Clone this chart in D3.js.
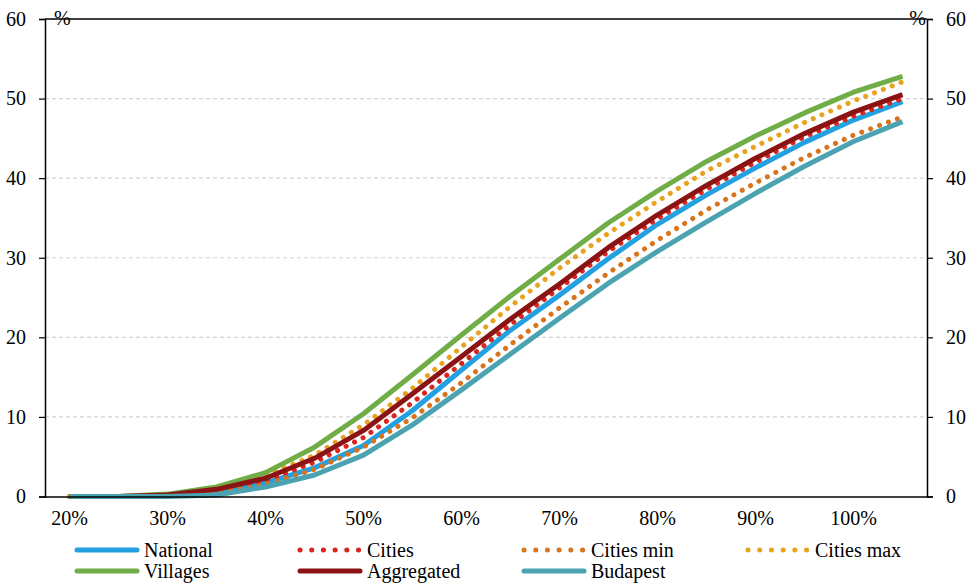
<!DOCTYPE html>
<html>
<head>
<meta charset="utf-8">
<script src="https://cdn.jsdelivr.net/npm/d3@7"></script>
<style>
  body { margin: 0; background: #fff; }
  svg text { font-family: "Times New Roman", "Liberation Serif", "DejaVu Serif", serif !important; fill: #000; }
</style>
</head>
<body>
<div id="chart"></div>
<script>
//////////////////////////////  data  /////////////////////////////////
var categories = ["20%","25%","30%","35%","40%","45%","50%","55%","60%","65%",
                  "70%","75%","80%","85%","90%","95%","100%","105%"];
var tickLabels = ["20%","30%","40%","50%","60%","70%","80%","90%","100%"];
var yTicks = [0,10,20,30,40,50,60];

var national  = [0,0,0.1,0.6,1.7,3.6,6.4,10.8,15.9,20.9,25.3,29.9,34.2,37.9,41.3,44.5,47.3,49.6];
var cities    = [0,0,0.1,0.7,2.0,4.3,7.4,11.8,16.7,21.6,26.2,30.8,34.9,38.6,42.0,45.2,47.8,50.0];
var citiesMin = [0,0,0.1,0.5,1.5,3.4,6.2,9.9,14.3,19.1,23.7,28.1,32.2,36.0,39.4,42.6,45.4,47.7];
var citiesMax = [0,0,0.2,1.0,2.6,5.2,9.0,13.6,18.8,23.9,28.7,33.1,37.1,40.9,44.0,47.0,49.7,52.1];
var villages  = [0,0,0.3,1.2,3.0,6.2,10.4,15.3,20.3,25.2,29.8,34.4,38.4,42.1,45.3,48.2,50.8,52.8];
var aggregated= [0,0,0.2,0.9,2.3,4.8,8.3,12.9,17.6,22.3,26.7,31.3,35.4,39.1,42.5,45.6,48.3,50.5];
var budapest  = [0,0,0,0.2,1.2,2.7,5.2,9.0,13.4,17.9,22.4,26.8,30.8,34.5,38.1,41.5,44.6,47.1];

var series = [
  {name: "National",   values: national,   color: "#22a0e0", dotted: false},
  {name: "Cities",     values: cities,     color: "#d8261e", dotted: true},
  {name: "Cities min", values: citiesMin,  color: "#d8731e", dotted: true},
  {name: "Cities max", values: citiesMax,  color: "#e8a31e", dotted: true},
  {name: "Villages",   values: villages,   color: "#70ad47", dotted: false},
  {name: "Aggregated", values: aggregated, color: "#8b1313", dotted: false},
  {name: "Budapest",   values: budapest,   color: "#4ba3b1", dotted: false}
];

//////////////////////////////  layout  /////////////////////////////////
var width = 972, height = 583;
var plot = {left: 45, right: 927, top: 19, bottom: 496.5};
var FONT = "'Times New Roman', 'Liberation Serif', 'DejaVu Serif', serif";

var svg = d3.select("#chart").append("svg")
  .attr("width", width)
  .attr("height", height)
  .style("font-family", FONT);

var x = d3.scaleBand()
  .domain(categories)
  .range([plot.left, plot.right]);

var y = d3.scaleLinear()
  .domain([0, 60])
  .range([plot.bottom, plot.top]);

function cx(d, i) { return x(categories[i]) + x.bandwidth() / 2; }

// gridlines
svg.append("g").selectAll("line")
  .data(yTicks.filter(function(d){ return d > 0 && d < 60; }))
  .enter().append("line")
  .attr("x1", plot.left).attr("x2", plot.right)
  .attr("y1", function(d){ return y(d); })
  .attr("y2", function(d){ return y(d); })
  .attr("stroke", "#d4d4d4")
  .attr("stroke-width", 1.2)
  .attr("stroke-dasharray", "4 3");

// series lines
var line = d3.line()
  .x(cx)
  .y(function(d){ return y(d); });

svg.append("g").selectAll("path")
  .data(series)
  .enter().append("path")
  .attr("d", function(d){ return line(d.values); })
  .attr("fill", "none")
  .attr("stroke", function(d){ return d.color; })
  .attr("stroke-width", 5)
  .attr("stroke-linecap", function(d){ return d.dotted ? "round" : "butt"; })
  .attr("stroke-linejoin", "round")
  .attr("stroke-dasharray", function(d){ return d.dotted ? "0.1 9.4" : null; });

// frame: top border + axes
svg.append("line")
  .attr("x1", plot.left).attr("x2", plot.right)
  .attr("y1", plot.top).attr("y2", plot.top)
  .attr("stroke", "#000").attr("stroke-width", 1.5);

var yLeft = svg.append("g")
  .attr("transform", "translate(" + plot.left + ",0)")
  .call(d3.axisLeft(y).tickValues(yTicks).tickSize(6).tickPadding(13));
var yRight = svg.append("g")
  .attr("transform", "translate(" + plot.right + ",0)")
  .call(d3.axisRight(y).tickValues(yTicks).tickSize(6).tickPadding(13));

[yLeft, yRight].forEach(function(g){
  g.attr("font-family", null).attr("font-size", null);
  g.select(".domain").attr("stroke", "#000").attr("stroke-width", 1.5);
  g.selectAll(".tick line").attr("stroke", "#000").attr("stroke-width", 1.2);
  g.selectAll(".tick text").style("font-size", "20px").style("font-family", FONT);
});

var xAxis = svg.append("g")
  .attr("transform", "translate(0," + plot.bottom + ")")
  .call(d3.axisBottom(x).tickValues(tickLabels).tickSize(0).tickPadding(14));
xAxis.attr("font-family", null).attr("font-size", null);
xAxis.select(".domain").attr("stroke", "#000").attr("stroke-width", 1.5);
xAxis.selectAll(".tick text").style("font-size", "20px").style("font-family", FONT);

// % unit labels
svg.append("text")
  .attr("x", plot.left + 9).attr("y", 25)
  .style("font-size", "20px")
  .text("%");
svg.append("text")
  .attr("x", plot.right - 1).attr("y", 25)
  .attr("text-anchor", "end")
  .style("font-size", "20px")
  .text("%");

//////////////////////////////  legend  /////////////////////////////////
var legendCols = [77, 300, 524, 748];
var legendRows = [550, 571];

var legend = svg.append("g").selectAll("g")
  .data(series)
  .enter().append("g")
  .attr("transform", function(d, i){
    return "translate(" + legendCols[i % 4] + "," + legendRows[Math.floor(i / 4)] + ")";
  });

legend.append("line")
  .attr("x1", 0).attr("x2", 60)
  .attr("y1", 0).attr("y2", 0)
  .attr("stroke", function(d){ return d.color; })
  .attr("stroke-width", 5)
  .attr("stroke-linecap", "round")
  .attr("stroke-dasharray", function(d){ return d.dotted ? "0.1 11.6" : null; });

legend.append("text")
  .attr("x", 67)
  .attr("y", 0)
  .attr("dy", "0.33em")
  .style("font-size", "20px")
  .text(function(d){ return d.name; });
</script>
</body>
</html>
